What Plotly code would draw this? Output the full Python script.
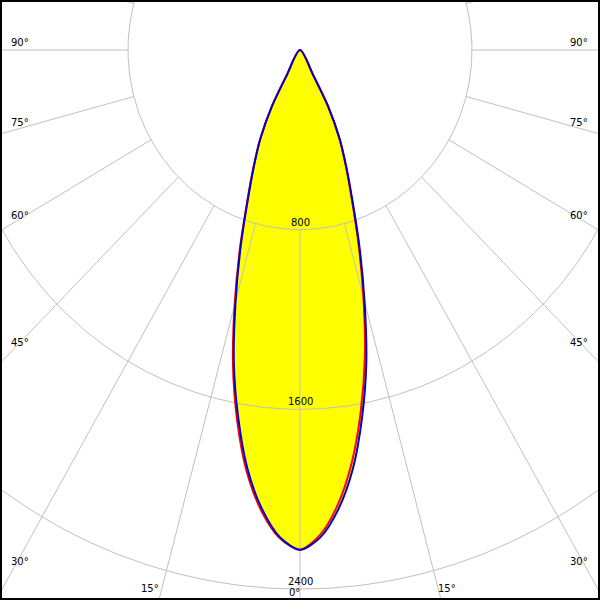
import numpy as np
import plotly.graph_objects as go

# Luminous intensity distribution (cd)
gamma = [0, 2.5, 5, 7.5, 10, 12.5, 15, 17.5, 20, 22.5, 25, 27.5, 28.75, 30]
c0 = [2225, 2160, 2030, 1850, 1630, 1395, 1140, 905, 702, 555, 432, 282, 128, 0]     # red, right side
c180 = [2225, 2175, 2060, 1895, 1680, 1440, 1175, 930, 718, 566, 441, 288, 132, 0]   # red, left side
c90 = [2225, 2172, 2052, 1882, 1662, 1425, 1160, 920, 712, 562, 437, 285, 130, 0]    # blue, right side
c270 = [2225, 2170, 2048, 1878, 1658, 1422, 1157, 918, 710, 560, 436, 284, 130, 0]   # blue, left side

grid_radii = [800, 1600, 2400, 3200]
grid_angles = list(range(0, 360, 15))
radial_labels = ["800", "1600", "2400"]

# pixel geometry of the drawing
CX, CY = 300.0, 50.0
SX, SY = 0.215, 0.2246  # px per cd


def to_data(px, py):
    return (px - CX) / SX, -(py - CY) / SY


def curve(left, right):
    th = [-g for g in gamma[::-1]] + gamma[1:]
    I = list(left[::-1]) + list(right[1:])
    t = np.radians(th)
    I = np.array(I, dtype=float)
    return I * np.sin(t), -I * np.cos(t)


fig = go.Figure()

rx, ry = curve(c180, c0)
bx, by = curve(c270, c90)
SM = 0.8

for xx, yy in [(rx, ry), (bx, by)]:
    fig.add_trace(go.Scatter(x=xx, y=yy, mode="lines", fill="toself",
                             fillcolor="#ffff00", line=dict(width=0, color="#ffff00", shape="spline", smoothing=SM),
                             hoverinfo="skip", showlegend=False))

gc = "#c0c0c0"
ang = np.radians(np.linspace(0, 360, 721))
for r in grid_radii:
    fig.add_trace(go.Scatter(x=r * np.sin(ang), y=-r * np.cos(ang), mode="lines",
                             line=dict(color=gc, width=1), hoverinfo="skip", showlegend=False))
for a in grid_angles:
    t = np.radians(a)
    r0, r1 = grid_radii[0], 6000
    fig.add_trace(go.Scatter(x=[r0 * np.sin(t), r1 * np.sin(t)], y=[-r0 * np.cos(t), -r1 * np.cos(t)],
                             mode="lines", line=dict(color=gc, width=1), hoverinfo="skip", showlegend=False))

fig.add_trace(go.Scatter(x=rx, y=ry, mode="lines", line=dict(color="#ff0000", width=2, shape="spline", smoothing=SM),
                         hoverinfo="skip", showlegend=False))
fig.add_trace(go.Scatter(x=bx, y=by, mode="lines", line=dict(color="#0000cc", width=2, shape="spline", smoothing=SM),
                         hoverinfo="skip", showlegend=False))

font = dict(family="DejaVu Sans", size=10, color="#000000")

for lab, r in zip(radial_labels, grid_radii):
    fig.add_annotation(x=0, y=-r, text=lab, showarrow=False, xanchor="center", yanchor="bottom",
                       yshift=0, font=font)

# angle labels: (text, pixel x, pixel y, anchor)
angle_label_pos = [
    ("90°", 9, 42, "left"), ("75°", 9, 122, "left"), ("60°", 9, 215, "left"),
    ("45°", 9, 342, "left"), ("30°", 9, 561, "left"), ("15°", 161, 588, "right"),
    ("0°", 302, 592, "right"),
    ("90°", 590, 42, "right"), ("75°", 590, 122, "right"), ("60°", 590, 215, "right"),
    ("45°", 590, 342, "right"), ("30°", 590, 561, "right"), ("15°", 436, 588, "left"),
]
for txt, px, py, anc in angle_label_pos:
    dx, dy = to_data(px, py)
    fig.add_annotation(x=dx, y=dy, text=txt, showarrow=False, xanchor=anc, yanchor="middle", font=font)

x0, _ = to_data(2, 0)
x1, _ = to_data(598, 0)
_, y0 = to_data(0, 598)
_, y1 = to_data(0, 2)

fig.update_layout(
    width=600, height=600,
    margin=dict(l=2, r=2, t=2, b=2, pad=0),
    paper_bgcolor="#000000", plot_bgcolor="#ffffff",
    xaxis=dict(range=[x0, x1], visible=False, fixedrange=True),
    yaxis=dict(range=[y0, y1], visible=False, fixedrange=True),
    showlegend=False,
)

fig.write_html("out.html", config={"displayModeBar": False},
               post_script="document.body.style.margin='0';document.body.style.padding='0';")
